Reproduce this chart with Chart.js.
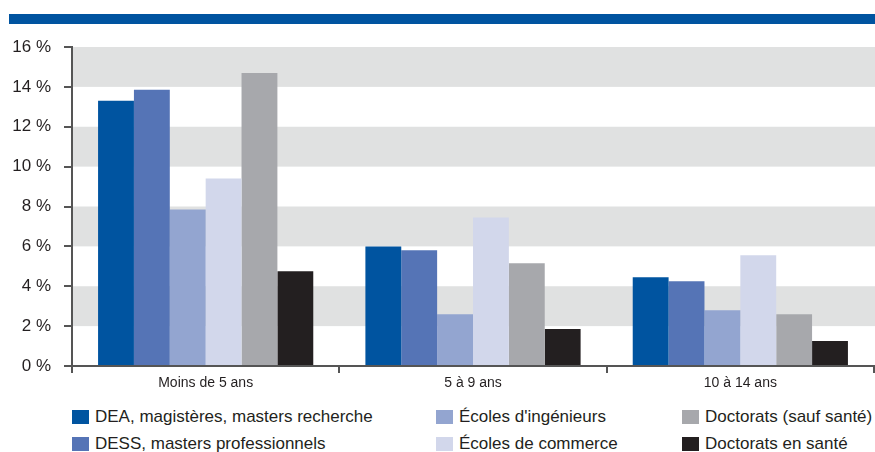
<!DOCTYPE html>
<html>
<head>
<meta charset="utf-8">
<script src="https://cdn.jsdelivr.net/npm/chart.js@4"></script>
<style>
  body { margin: 0; background: #fff; width: 875px; height: 452px; overflow: hidden; position: relative;
         font-family: "Liberation Sans", Arial, sans-serif; color: #231f20; }
  .topbar { position: absolute; left: 9px; top: 14px; width: 866px; height: 10px; background: #0054a0; }
  .wrap { position: absolute; left: 0; top: 0; width: 875px; height: 395px; }
  .legend { position: absolute; left: 72px; top: 403px; display: grid; grid-auto-flow: column;
            grid-template-rows: 27px 27px; grid-template-columns: 364px 246px 200px; }
  .legend div { display: flex; align-items: center; font-size: 17px; white-space: nowrap; }
  .legend span { display: inline-block; width: 17px; height: 14px; margin-right: 6px; flex: none; }
</style>
</head>
<body>
<div class="topbar"></div>
<div class="wrap"><canvas id="chart" width="875" height="395"></canvas></div>
<div class="legend" id="legend"></div>
<script>
const categories = ['Moins de 5 ans', '5 à 9 ans', '10 à 14 ans'];
const seriesNames = ['DEA, magistères, masters recherche', 'DESS, masters professionnels',
  "Écoles d'ingénieurs", 'Écoles de commerce', 'Doctorats (sauf santé)', 'Doctorats en santé'];
const seriesColors = ['#0054a0', '#5574b6', '#93a5d0', '#d2d7eb', '#a7a8ac', '#231f20'];
const deaValues = [13.3, 6.0, 4.45];
const dessValues = [13.85, 5.8, 4.25];
const ingenieursValues = [7.85, 2.6, 2.8];
const commerceValues = [9.4, 7.45, 5.55];
const doctoratsValues = [14.7, 5.15, 2.6];
const santeValues = [4.75, 1.85, 1.25];
const yTicks = [0, 2, 4, 6, 8, 10, 12, 14, 16];
const bands = [[2, 4], [6, 8], [10, 12], [14, 16]];

const allValues = [deaValues, dessValues, ingenieursValues, commerceValues, doctoratsValues, santeValues];
const fontFamily = '"Liberation Sans", Arial, sans-serif';

// grey horizontal bands behind the bars
const bandPlugin = {
  id: 'bands',
  beforeDatasetsDraw(chart) {
    const { ctx, chartArea, scales } = chart;
    ctx.save();
    ctx.fillStyle = '#e0e1e1';
    bands.forEach(([lo, hi]) => {
      const y1 = scales.y.getPixelForValue(hi);
      const y2 = scales.y.getPixelForValue(lo);
      ctx.fillRect(chartArea.left + 1, y1, chartArea.right - chartArea.left, y2 - y1);
    });
    ctx.restore();
  }
};

new Chart(document.getElementById('chart'), {
  type: 'bar',
  data: {
    labels: categories,
    datasets: seriesNames.map((name, i) => ({
      label: name,
      data: allValues[i],
      backgroundColor: seriesColors[i],
      borderWidth: 0,
      categoryPercentage: 0.805,
      barPercentage: 1
    }))
  },
  options: {
    responsive: false,
    animation: false,
    devicePixelRatio: 1,
    layout: { padding: { top: 47, right: 1, bottom: 0, left: 0 } },
    plugins: { legend: { display: false }, tooltip: { enabled: false } },
    scales: {
      x: {
        grid: { display: true, drawOnChartArea: false, drawTicks: true, tickLength: 7, color: '#555', lineWidth: 2, offset: true },
        border: { display: true, color: '#555', width: 2 },
        ticks: { color: '#231f20', font: { family: fontFamily, size: 14 }, padding: 2, maxRotation: 0 },
        afterFit(scale) { scale.height = 29; }
      },
      y: {
        min: 0, max: 16,
        afterBuildTicks(scale) { scale.ticks = yTicks.map(v => ({ value: v })); },
        grid: { display: true, drawOnChartArea: false, drawTicks: true, tickLength: 8, color: '#555', lineWidth: 2 },
        border: { display: true, color: '#555', width: 2 },
        ticks: {
          color: '#231f20', font: { family: fontFamily, size: 17 }, padding: 13,
          callback: v => v + ' %'
        },
        afterFit(scale) { scale.width = 72; }
      }
    }
  },
  plugins: [bandPlugin]
});

// legend, column-wise like the original
const legend = document.getElementById('legend');
seriesNames.forEach((name, i) => {
  const item = document.createElement('div');
  item.innerHTML = '<span style="background:' + seriesColors[i] + '"></span>' + name;
  legend.appendChild(item);
});
</script>
</body>
</html>
